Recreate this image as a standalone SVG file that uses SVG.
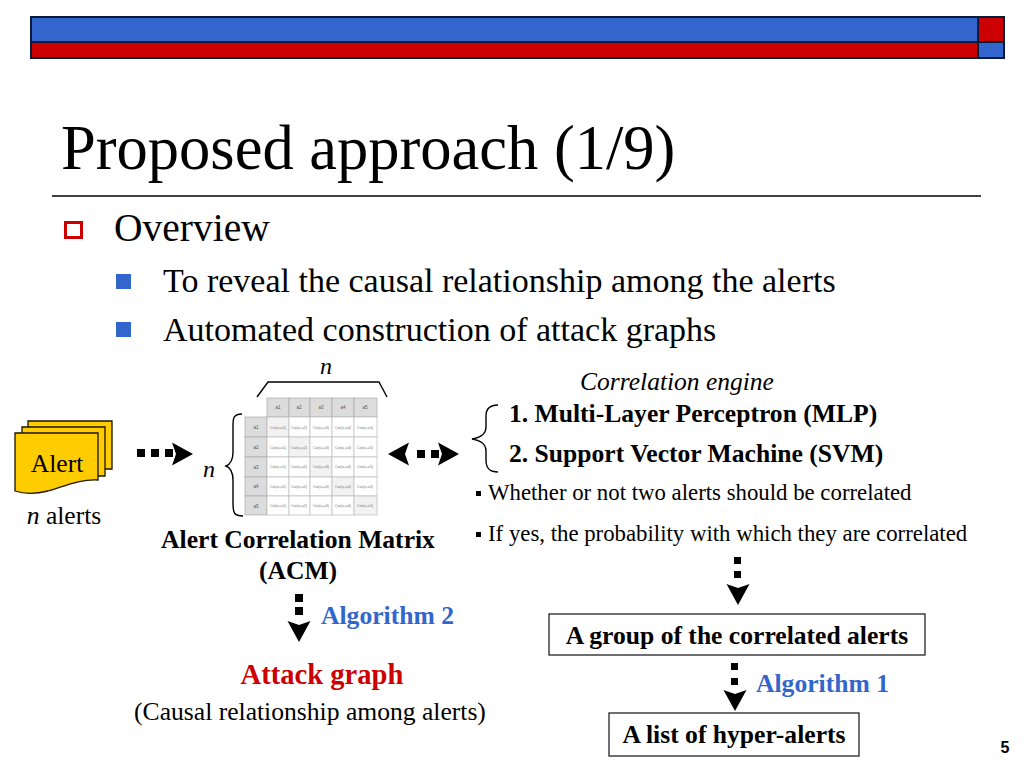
<svg xmlns="http://www.w3.org/2000/svg" width="1024" height="768" viewBox="0 0 1024 768">
<style>
text{font-family:"Liberation Serif","Times New Roman",serif;fill:#000}
.b{font-weight:bold}
.blue{fill:#3366cc}
.bar{stroke:#0a1a3a;stroke-width:2}
.line{fill:none;stroke:#000;stroke-width:1.4}
.sheet{fill:#ffcc00;stroke:#1a1400;stroke-width:1.3}
.hd{fill:#dcdcdc;stroke:#aaa;stroke-width:.7}
.cl{fill:#fff;stroke:#bbb;stroke-width:.7}
.dg{fill:#f2f2f2;stroke:#bbb;stroke-width:.7}
.h{font-size:4.5px;fill:#555;text-anchor:middle;font-family:"Liberation Sans",sans-serif}
.c{font-size:3.8px;fill:#777;text-anchor:middle;font-family:"Liberation Sans",sans-serif}
.sq{fill:#000}
.box{fill:#fff;stroke:#222;stroke-width:1.3}
</style>
<defs>
<path id="ar" d="M0 0L-21 -11.500L-17 0L-21 11.500Z" fill="#000"/>
</defs>

<g id="banner">
<rect class="bar" x="31" y="17" width="947" height="25" fill="#3366cc"/>
<rect class="bar" x="31" y="42" width="947" height="16" fill="#cc0000"/>
<rect class="bar" x="978" y="17" width="26" height="25" fill="#cc0000"/>
<rect class="bar" x="978" y="42" width="26" height="16" fill="#3366cc"/>
</g>

<g id="title">
<text x="61" y="169" font-size="62.500">Proposed approach (1/9)</text>
<line x1="52" y1="196" x2="981" y2="196" stroke="#000" stroke-width="1.4"/>
</g>

<g id="bullets">
<rect x="65.500" y="222.500" width="16" height="15" fill="#fff" stroke="#cc0000" stroke-width="3"/>
<text x="114" y="241" font-size="39.500">Overview</text>
<rect x="116" y="274" width="15" height="15" fill="#3366cc"/>
<text x="163" y="292" font-size="34">To reveal the causal relationship among the alerts</text>
<rect x="116" y="322" width="15" height="15" fill="#3366cc"/>
<text x="163" y="341" font-size="34">Automated construction of attack graphs</text>
</g>

<g id="alert">
<path class="sheet" d="M28 421H112V469H28Z"/>
<path class="sheet" d="M22 427H105V476H22Z"/>
<path class="sheet" d="M15 433H98V480C80 479 65 486 48 491C36 494 24 494 15 491Z"/>
<text x="57" y="472" font-size="25.600" text-anchor="middle">Alert</text>
<text x="64" y="524" font-size="25.600" text-anchor="middle"><tspan font-style="italic">n</tspan> alerts</text>
</g>

<g id="matrix">
<g id="matrix-header">
<rect class="hd" x="267" y="398" width="22" height="19"/><rect class="hd" x="289" y="398" width="21" height="19"/><rect class="hd" x="310" y="398" width="22" height="19"/><rect class="hd" x="332" y="398" width="22" height="19"/><rect class="hd" x="354" y="398" width="23" height="19"/>
<rect class="hd" x="245" y="417" width="22" height="20"/><rect class="hd" x="245" y="437" width="22" height="20"/><rect class="hd" x="245" y="457" width="22" height="20"/><rect class="hd" x="245" y="477" width="22" height="19"/><rect class="hd" x="245" y="496" width="22" height="19"/>
<text class="h" x="278" y="409">a1</text><text class="h" x="299" y="409">a2</text><text class="h" x="321" y="409">a3</text><text class="h" x="343" y="409">a4</text><text class="h" x="365" y="409">a5</text>
<text class="h" x="256" y="429">a1</text><text class="h" x="256" y="449">a2</text><text class="h" x="256" y="469">a3</text><text class="h" x="256" y="488">a4</text><text class="h" x="256" y="508">a5</text>
</g>
<g id="matrix-cells">
<rect class="dg" x="267" y="417" width="22" height="20"/><rect class="cl" x="289" y="417" width="21" height="20"/><rect class="cl" x="310" y="417" width="22" height="20"/><rect class="cl" x="332" y="417" width="22" height="20"/><rect class="cl" x="354" y="417" width="23" height="20"/>
<rect class="cl" x="267" y="437" width="22" height="20"/><rect class="dg" x="289" y="437" width="21" height="20"/><rect class="cl" x="310" y="437" width="22" height="20"/><rect class="cl" x="332" y="437" width="22" height="20"/><rect class="cl" x="354" y="437" width="23" height="20"/>
<rect class="cl" x="267" y="457" width="22" height="20"/><rect class="cl" x="289" y="457" width="21" height="20"/><rect class="dg" x="310" y="457" width="22" height="20"/><rect class="cl" x="332" y="457" width="22" height="20"/><rect class="cl" x="354" y="457" width="23" height="20"/>
<rect class="cl" x="267" y="477" width="22" height="19"/><rect class="cl" x="289" y="477" width="21" height="19"/><rect class="cl" x="310" y="477" width="22" height="19"/><rect class="dg" x="332" y="477" width="22" height="19"/><rect class="cl" x="354" y="477" width="23" height="19"/>
<rect class="cl" x="267" y="496" width="22" height="19"/><rect class="cl" x="289" y="496" width="21" height="19"/><rect class="cl" x="310" y="496" width="22" height="19"/><rect class="cl" x="332" y="496" width="22" height="19"/><rect class="dg" x="354" y="496" width="23" height="19"/>
<text class="c" x="278" y="429">Cor(a,a1)</text><text class="c" x="299" y="429">Cor(a,a2)</text><text class="c" x="321" y="429">Cor(a,a3)</text><text class="c" x="343" y="429">Cor(a,a4)</text><text class="c" x="365" y="429">Cor(a,a5)</text>
<text class="c" x="278" y="449">Cor(a,a1)</text><text class="c" x="299" y="449">Cor(a,a2)</text><text class="c" x="321" y="449">Cor(a,a3)</text><text class="c" x="343" y="449">Cor(a,a4)</text><text class="c" x="365" y="449">Cor(a,a5)</text>
<text class="c" x="278" y="468">Cor(a,a1)</text><text class="c" x="299" y="468">Cor(a,a2)</text><text class="c" x="321" y="468">Cor(a,a3)</text><text class="c" x="343" y="468">Cor(a,a4)</text><text class="c" x="365" y="468">Cor(a,a5)</text>
<text class="c" x="278" y="488">Cor(a,a1)</text><text class="c" x="299" y="488">Cor(a,a2)</text><text class="c" x="321" y="488">Cor(a,a3)</text><text class="c" x="343" y="488">Cor(a,a4)</text><text class="c" x="365" y="488">Cor(a,a5)</text>
<text class="c" x="278" y="507">Cor(a,a1)</text><text class="c" x="299" y="507">Cor(a,a2)</text><text class="c" x="321" y="507">Cor(a,a3)</text><text class="c" x="343" y="507">Cor(a,a4)</text><text class="c" x="365" y="507">Cor(a,a5)</text>
</g>
<path class="line" d="M257 397L268 382H379L387 397"/>
<text x="326" y="374" font-size="24" font-style="italic" text-anchor="middle">n</text>
<path class="line" d="M242 414C232 414 233 420 233 430V452C233 460 231 464 226 466C231 468 233 472 233 480V503C233 513 234 516 243 516"/>
<text x="209" y="477" font-size="24" font-style="italic" text-anchor="middle">n</text>
<text x="298" y="548" font-size="25.600" text-anchor="middle" class="b">Alert Correlation Matrix</text>
<text x="298" y="579" font-size="25.600" text-anchor="middle" class="b">(ACM)</text>
</g>

<g id="engine">
<text x="677" y="390" font-size="25.500" font-style="italic" text-anchor="middle">Correlation engine</text>
<path class="line" d="M498 405C489 405 486 409 486 416V427C486 433 483 437 472 439C483 441 486 445 486 451V460C486 468 489 472 498 472"/>
<text x="509" y="422" font-size="25.600" class="b">1. Multi-Layer Perceptron (MLP)</text>
<text x="509" y="462" font-size="25.600" class="b">2. Support Vector Machine (SVM)</text>
<rect x="476" y="491" width="5" height="5"/>
<text x="488" y="500" font-size="22.800">Whether or not two alerts should be correlated</text>
<rect x="476" y="532" width="5" height="5"/>
<text x="488" y="541" font-size="22.800">If yes, the probability with which they are correlated</text>
</g>

<g id="attack-graph">
<text x="322" y="684" font-size="28.600" text-anchor="middle" class="b" style="fill:#cc0000">Attack graph</text>
<text x="310" y="720" font-size="25.600" text-anchor="middle">(Causal relationship among alerts)</text>
</g>

<g id="group-box">
<rect class="box" x="549" y="614" width="376" height="41"/>
<text x="737" y="644" font-size="25.600" text-anchor="middle" class="b">A group of the correlated alerts</text>
</g>

<g id="hyper-box">
<rect class="box" x="609" y="713" width="250" height="43"/>
<text x="734" y="743" font-size="25.600" text-anchor="middle" class="b">A list of hyper-alerts</text>
</g>

<g id="connectors">
<g id="c1">
<rect class="sq" x="137" y="449" width="8" height="8"/><rect class="sq" x="151" y="449" width="8" height="8"/><rect class="sq" x="165" y="449" width="8" height="8"/>
<use href="#ar" x="193" y="454"/>
</g>
<g id="c2">
<rect class="sq" x="417" y="450" width="8" height="8"/><rect class="sq" x="431" y="450" width="8" height="8"/>
<use href="#ar" x="459" y="454"/>
<use href="#ar" transform="translate(388 454) rotate(180)"/>
</g>
<g id="c3">
<rect class="sq" x="295" y="594" width="8" height="8"/><rect class="sq" x="295" y="607" width="8" height="8"/>
<use href="#ar" transform="translate(299 642) rotate(90)"/>
</g>
<g id="c4">
<rect class="sq" x="734" y="557" width="7" height="7"/><rect class="sq" x="734" y="571" width="7" height="7"/>
<use href="#ar" transform="translate(738 605) rotate(90)"/>
</g>
<g id="c5">
<rect class="sq" x="731" y="663" width="7" height="7"/><rect class="sq" x="731" y="678" width="7" height="7"/>
<use href="#ar" transform="translate(735 711) rotate(90)"/>
</g>
</g>

<g id="labels">
<text x="321" y="624" font-size="25.600" class="b blue">Algorithm 2</text>
<text x="756" y="692" font-size="25.600" class="b blue">Algorithm 1</text>
<text x="1005" y="753" font-size="16" text-anchor="middle" style="font-family:'Liberation Sans',sans-serif;font-weight:bold">5</text>
</g>
</svg>
